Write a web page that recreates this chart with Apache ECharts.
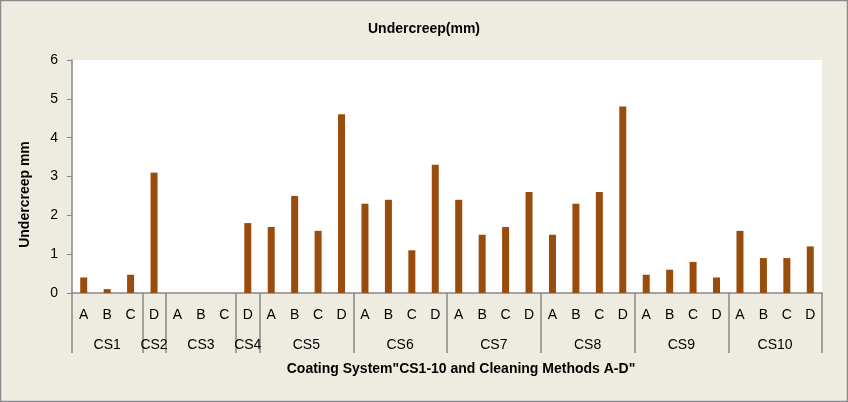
<!DOCTYPE html>
<html><head><meta charset="utf-8">
<script src="https://cdn.jsdelivr.net/npm/echarts@6/dist/echarts.min.js"></script>
<style>html,body{margin:0;padding:0;background:#EEECE1}#c{width:848px;height:402px}</style>
</head><body><div id="c"></div>
<script>
const methods = ['A','B','C','D','A','B','C','D','A','B','C','D','A','B','C','D','A','B','C','D','A','B','C','D','A','B','C','D','A','B','C','D'];
const values = [0.4,0.1,0.47,3.1, 0,0,0,1.8, 1.7,2.5,1.6,4.6, 2.3,2.4,1.1,3.3, 2.4,1.5,1.7,2.6, 1.5,2.3,2.6,4.8, 0.47,0.6,0.8,0.4, 1.6,0.9,0.9,1.2];
const groups = ['CS1','CS2','CS3','CS4','CS5','CS6','CS7','CS8','CS9','CS10'];
const groupSpans = [3,1,3,1,4,4,4,4,4,4];
const yTicks = [0,1,2,3,4,5,6];

const boundaries = [0];
const centers = [];
groupSpans.forEach(s => { const b = boundaries[boundaries.length-1]; centers.push(b + s/2); boundaries.push(b + s); });
const nameAt = {};
centers.forEach((c,i) => nameAt[c] = groups[i]);

const gray = '#878787';
const font = '"Liberation Sans",Arial,sans-serif';
const chart = echarts.init(document.getElementById('c'));
chart.setOption({
  backgroundColor: '#EEECE1',
  animation: false,
  title: {
    text: 'Undercreep(mm)', left: 'center', top: 17,
    textStyle: {fontFamily: '"Liberation Sans Narrow","Liberation Sans",sans-serif', fontWeight: 'bold', fontSize: 14, color: '#000'}
  },
  graphic: [{type: 'rect', shape: {x: 0.5, y: 0.5, width: 847, height: 401}, style: {fill: 'none', stroke: '#8a8a8a', lineWidth: 1.5}}],
  grid: {left: 72, right: 26, top: 60, bottom: 109, show: true, backgroundColor: '#fff', borderWidth: 0},
  xAxis: [{
    type: 'category', data: methods, position: 'bottom',
    axisLine: {lineStyle: {color: gray, width: 1.5}},
    axisTick: {show: false},
    axisLabel: {interval: 0, margin: 15, fontSize: 14, color: '#000', fontFamily: font},
    name: 'Coating System"CS1-10 and Cleaning Methods A-D"',
    nameLocation: 'middle', nameGap: 69,
    nameTextStyle: {fontWeight: 'bold', fontSize: 14, color: '#000', fontFamily: font, padding: [0,0,0,28]}
  }, {
    type: 'value', min: 0, max: 32, position: 'bottom',
    axisLine: {show: false},
    splitLine: {show: false},
    axisTick: {show: true, customValues: boundaries, length: 60, lineStyle: {color: gray, width: 1.5}},
    axisLabel: {customValues: centers, margin: 45, fontSize: 14, color: '#000', fontFamily: font,
      formatter: v => nameAt[v] || ''}
  }],
  yAxis: {
    type: 'value', min: 0, max: 6, interval: 1,
    axisLine: {show: true, lineStyle: {color: gray, width: 1.5}},
    axisTick: {show: true, length: 5, lineStyle: {color: gray}},
    splitLine: {show: false},
    axisLabel: {fontSize: 14, color: '#000', margin: 14, fontFamily: font},
    name: 'Undercreep mm', nameLocation: 'middle', nameGap: 40, nameRotate: 90,
    nameTextStyle: {fontWeight: 'bold', fontSize: 14, color: '#000', fontFamily: font, padding: [0,36,0,0]}
  },
  series: [{
    type: 'bar', data: values, xAxisIndex: 0, barWidth: 7,
    itemStyle: {color: '#994C0C'}
  }]
});
</script></body></html>
